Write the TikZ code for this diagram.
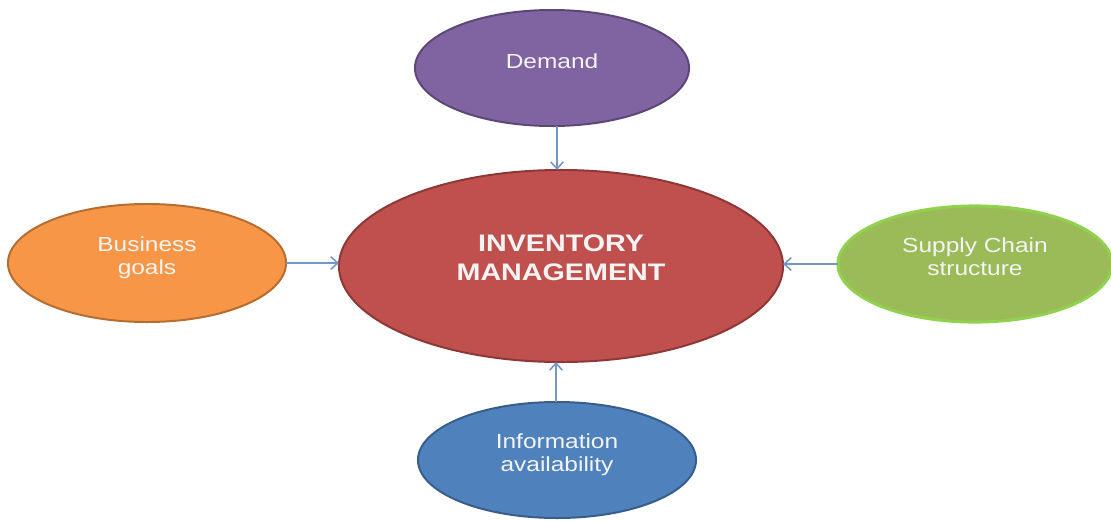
\documentclass[tikz,border=0pt]{standalone}
\usepackage{fontspec}
\setmainfont[FakeStretch=1.2]{Liberation Sans}
\usetikzlibrary{shapes.geometric,arrows.meta}
\definecolor{purplef}{HTML}{8064A2}\definecolor{purpled}{HTML}{5C4776}
\definecolor{redf}{HTML}{C0504D}\definecolor{redd}{HTML}{8C3836}
\definecolor{orangef}{HTML}{F79646}\definecolor{oranged}{HTML}{B66D31}
\definecolor{greenf}{HTML}{9BBB59}\definecolor{greend}{HTML}{92D050}
\definecolor{bluef}{HTML}{4F81BD}\definecolor{blued}{HTML}{385D8A}
\definecolor{arrowc}{HTML}{7497C6}
\definecolor{txt}{HTML}{F4F4F4}
\newcommand{\twolines}[2]{\begin{tabular}[t]{@{}c@{}}#1\\#2\end{tabular}}
\tikzset{
  oval/.style={ellipse, inner sep=0pt, outer sep=0pt, line width=1.4pt, text=txt,
    text height=0pt, text depth=17pt, font=\fontsize{14.5}{17}\selectfont},
  conn/.style={arrowc, line width=1.1pt, -{Straight Barb[length=5pt,width=9pt]}},
}
\begin{document}
\begin{tikzpicture}[x=0.025cm,y=-0.025cm]
\useasboundingbox (0,0) rectangle (1111,520);
\node[oval, fill=purplef, draw=purpled, text depth=0pt, minimum width=6.85cm, minimum height=2.9cm] (dem) at (552,68) {Demand};
\node[oval, fill=redf, draw=redd, minimum width=11.1cm, minimum height=4.8cm, text depth=20.5pt, font=\bfseries\fontsize{17}{20.5}\selectfont] (inv) at (561,266) {\twolines{INVENTORY}{MANAGEMENT}};
\node[oval, fill=orangef, draw=oranged, minimum width=6.95cm, minimum height=2.95cm] (bus) at (147,263) {\twolines{Business}{goals}};
\node[oval, fill=greenf, draw=greend, line width=2.2pt, minimum width=6.85cm, minimum height=2.9cm] (sup) at (975,264) {\twolines{Supply Chain}{structure}};
\node[oval, fill=bluef, draw=blued, minimum width=6.95cm, minimum height=2.9cm] (inf) at (557,460) {\twolines{Information}{availability}};
\draw[conn] (dem.south -| 557,0) -- (inv.north -| 557,0);
\draw[conn] (bus.east) -- (inv.west |- bus.east);
\draw[conn] (sup.west) -- (inv.east |- sup.west);
\draw[conn] (inf.north -| 556,0) -- (inv.south -| 556,0);
\end{tikzpicture}
\end{document}
